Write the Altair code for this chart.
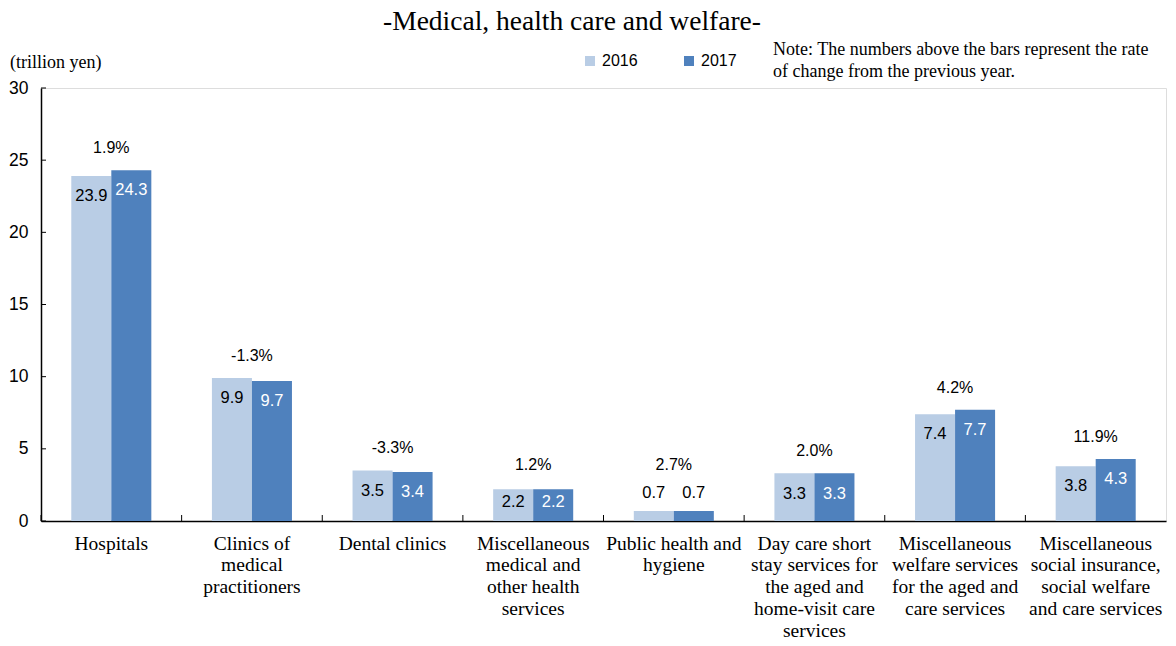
import altair as alt
import pandas as pd

# ---------------- data ----------------
categories = [
    "Hospitals",
    "Clinics of\nmedical\npractitioners",
    "Dental clinics",
    "Miscellaneous\nmedical and\nother health\nservices",
    "Public health and\nhygiene",
    "Day care short\nstay services for\nthe aged and\nhome-visit care\nservices",
    "Miscellaneous\nwelfare services\nfor the aged and\ncare services",
    "Miscellaneous\nsocial insurance,\nsocial welfare\nand care services",
]
values_2016 = [23.9, 9.9, 3.5, 2.2, 0.7, 3.3, 7.4, 3.8]
values_2017 = [24.3, 9.7, 3.4, 2.2, 0.7, 3.3, 7.7, 4.3]
rates = ["1.9%", "-1.3%", "-3.3%", "1.2%", "2.7%", "2.0%", "4.2%", "11.9%"]
years = ["2016", "2017"]
y_ticks = [0, 5, 10, 15, 20, 25, 30]

title_text = "-Medical, health care and welfare-"
unit_text = "(trillion yen)"
note_text = "Note: The numbers above the bars represent the rate\nof change from the previous year."

# ---------------- tables ----------------
rows = []
for c, a, b in zip(categories, values_2016, values_2017):
    rows.append({"cat": c, "year": "2016", "value": a, "label": f"{a:.1f}"})
    rows.append({"cat": c, "year": "2017", "value": b, "label": f"{b:.1f}"})
long_df = pd.DataFrame(rows)

rate_df = pd.DataFrame({
    "cat": categories,
    "rate": rates,
    "top": [max(a, b) for a, b in zip(values_2016, values_2017)],
})
cat_df = pd.DataFrame({"cat": categories})
ytick_df = pd.DataFrame({"v": y_ticks})

W, H = 1125, 433
SERIF = "Liberation Serif"
SANS = "Liberation Sans"

x_enc = alt.X(
    "cat:N",
    sort=categories,
    scale=alt.Scale(paddingInner=0, paddingOuter=0),
    axis=alt.Axis(
        title=None,
        labelExpr="split(datum.label, '\\n')",
        labelFont=SERIF,
        labelFontSize=19.5,
        labelColor="black",
        labelAngle=0,
        labelLineHeight=21.8,
        labelPadding=13,
        labelLimit=0,
        tickSize=0,
        domainColor="black",
        domainWidth=1.5,
    ),
)
xoff_enc = alt.XOffset("year:N", sort=years, scale=alt.Scale(paddingInner=0, paddingOuter=0.757))
y_scale = alt.Scale(domain=[0, 30], nice=False)

bars = alt.Chart(long_df).mark_bar().encode(
    x=x_enc,
    xOffset=xoff_enc,
    y=alt.Y(
        "value:Q",
        scale=y_scale,
        axis=alt.Axis(
            title=None,
            values=y_ticks,
            grid=False,
            tickSize=0,
            labelFont=SANS,
            labelFontSize=17.5,
            labelColor="black",
            labelPadding=13,
            domainColor="black",
            domainWidth=1.5,
        ),
    ),
    color=alt.Color(
        "year:N",
        scale=alt.Scale(domain=years, range=["#B9CDE5", "#4F81BD"]),
        legend=alt.Legend(
            title=None,
            orient="none",
            legendX=541,
            legendY=-35,
            direction="horizontal",
            symbolType="square",
            symbolSize=100,
            symbolStrokeWidth=0,
            labelFont=SANS,
            labelFontSize=16,
            labelColor="black",
            labelOffset=4,
            columnPadding=43,
            padding=0,
        ),
    ),
)

inside = "datum.value >= 1.5"
value_labels = alt.Chart(long_df).transform_calculate(
    pos=f"{inside} ? max(datum.value - 1.4, 1.32) : datum.value + 1.25"
).mark_text(font=SANS, fontSize=16.5, baseline="middle").encode(
    x=alt.X("cat:N", sort=categories),
    xOffset=xoff_enc,
    y=alt.Y("pos:Q", scale=y_scale),
    text="label:N",
    color=alt.condition(f"datum.year == '2017' && {inside}", alt.value("white"), alt.value("black")),
)

rate_labels = alt.Chart(rate_df).transform_calculate(
    anchor="max(datum.top, 2.36)"
).mark_text(
    font=SANS, fontSize=16, baseline="middle", dy=-22, color="black"
).encode(
    x=alt.X("cat:N", sort=categories),
    y=alt.Y("anchor:Q", scale=y_scale),
    text="rate:N",
)

x_ticks = alt.Chart(cat_df).mark_rule(color="black", strokeWidth=1).encode(
    x=alt.X("cat:N", sort=categories, bandPosition=0),
    y=alt.value(H - 6),
    y2=alt.value(H),
)

y_tick_marks = alt.Chart(ytick_df).mark_rule(color="black", strokeWidth=1).encode(
    y=alt.Y("v:Q", scale=y_scale),
    x=alt.value(0),
    x2=alt.value(5),
)

title = alt.Chart(pd.DataFrame({"t": [title_text]})).mark_text(
    font=SERIF, fontSize=27.5, align="center", baseline="alphabetic", color="black"
).encode(text="t:N", x=alt.value(531), y=alt.value(-58))

unit = alt.Chart(pd.DataFrame({"t": [unit_text]})).mark_text(
    font=SERIF, fontSize=18, align="left", baseline="middle", color="black"
).encode(text="t:N", x=alt.value(-31), y=alt.value(-25))

note = alt.Chart(pd.DataFrame({"t": [note_text]})).mark_text(
    font=SERIF, fontSize=18, align="left", baseline="middle", color="black",
    lineBreak="\n", lineHeight=22,
).encode(text="t:N", x=alt.value(732), y=alt.value(-38))

chart = alt.layer(
    bars, value_labels, rate_labels, x_ticks, y_tick_marks, title, unit, note
).properties(
    width=W,
    height=H,
    autosize=alt.AutoSizeParams(type="none"),
    padding={"left": 33, "top": 80, "right": 2, "bottom": 117},
).configure_view(
    stroke="black", strokeWidth=1.2
).configure(background="white")

chart.save("out.html", embed_options={"renderer": "svg", "actions": False})
